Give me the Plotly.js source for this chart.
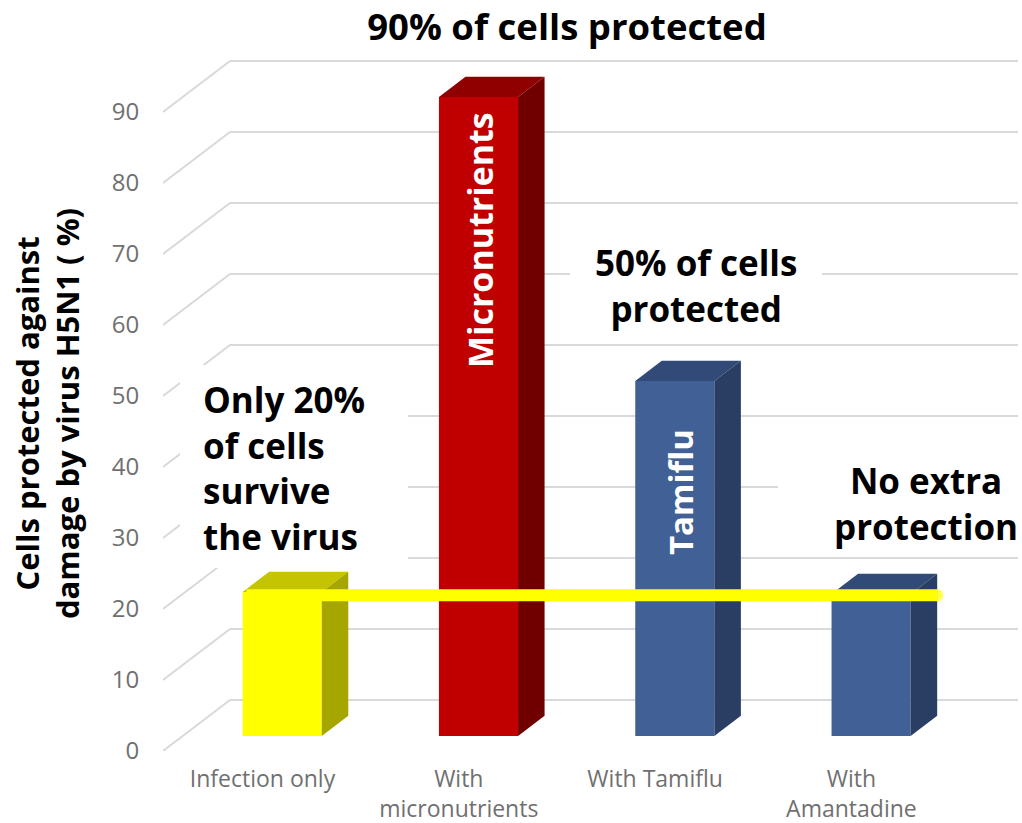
<!DOCTYPE html>
<html><head><meta charset="utf-8">
<script src="https://cdn.plot.ly/plotly-3.0.1.min.js"></script>
<style>html,body{margin:0;padding:0;background:#fff}#c{width:1022px;height:823px}</style>
</head><body><div id="c"></div>
<script>
const categories = ["Infection only","With<br>micronutrients","With Tamiflu","With<br>Amantadine"];
const values = [20.3,90,50,20];
const yTicks = [0,10,20,30,40,50,60,70,80,90];
const frontColors = ["#FFFF00","#C00000","#416096","#416096"];
const topColors = ["#C4C400","#900000","#324A78","#324A78"];
const sideColors = ["#A6A600","#700000","#2A3E63","#2A3E63"];
const barLabels = [null,"Micronutrients","Tamiflu",null];
const referenceLevel = 20;

// plot frame in pixels
const L=163,R=1018,T=55,B=751, W=1022,H=823;
const pxPerCat=196.3, pxPerVal=7.1, cat0=262.5;
const xr=[(L-cat0)/pxPerCat,(R-cat0)/pxPerCat], yr=[0,(B-T)/pxPerVal];
const dX=67/pxPerCat, dY=51/pxPerVal;      // full wall depth, axis units
const dFront=0.294, dBack=0.69, halfW=0.2015;
const px=v=>(v-cat0)/pxPerCat, py=v=>(B-v)/pxPerVal;
const P=(c,v,d)=>[c+d*dX, v+d*dY];

const traces=[];
// front faces
traces.push({type:'bar',x:categories.map((_,i)=>i+dFront*dX),y:values,base:values.map(()=>dFront*dY),
  width:halfW*2,marker:{color:frontColors,line:{width:0}},hoverinfo:'skip',showlegend:false});
// top + side faces
values.forEach((v,i)=>{
  const poly=(pts,color)=>traces.push({type:'scatter',mode:'lines',x:pts.map(p=>p[0]),y:pts.map(p=>p[1]),
    fill:'toself',fillcolor:color,line:{width:0,color:color},hoverinfo:'skip',showlegend:false});
  poly([P(i-halfW,v,dFront),P(i+halfW,v,dFront),P(i+halfW,v,dBack),P(i-halfW,v,dBack),P(i-halfW,v,dFront)],topColors[i]);
  poly([P(i+halfW,0,dFront),P(i+halfW,v,dFront),P(i+halfW,v,dBack),P(i+halfW,0,dBack),P(i+halfW,0,dFront)],sideColors[i]);
});
// reference line across bars
const s=P(-halfW+0.02,referenceLevel,0.27), e=P(3+halfW,referenceLevel,dBack);
traces.push({type:'scatter',mode:'lines+markers',x:[s[0]+(dFront-0.27)*dX,e[0]],y:[s[1],s[1]],
  line:{color:'#FFFF00',width:12},marker:{color:'#FFFF00',size:[0.1,12],line:{width:0}},hoverinfo:'skip',showlegend:false});

// wall grid lines, then white boxes behind the call-outs
const shapes=[];
yTicks.forEach(t=>{
  const a=P(xr[0],t,0), b=P(xr[0],t,1);
  shapes.push({type:'line',layer:'below',xref:'x',yref:'y',x0:a[0],y0:a[1],x1:b[0],y1:b[1],line:{color:'#D9D9D9',width:2}});
  shapes.push({type:'line',layer:'below',xref:'x',yref:'y',x0:b[0],y0:b[1],x1:xr[1],y1:b[1],line:{color:'#D9D9D9',width:2}});
});
[[180,365,408,568],[570,245,822,330],[778,440,1022,557]].forEach(r=>{
  shapes.push({type:'rect',layer:'below',xref:'x',yref:'y',x0:px(r[0]),x1:px(r[2]),y0:py(r[3]),y1:py(r[1]),fillcolor:'#fff',line:{width:0}});
});

const boldFont="'Open Sans', sans-serif";
const note=(text,x,y,size,extra)=>Object.assign({text,xref:'paper',yref:'paper',x:(x-L)/(R-L),y:(B-y)/(B-T),
  xanchor:'center',yanchor:'middle',showarrow:false,font:{family:boldFont,size:size,color:'#000'},align:'center'},extra||{});
const annotations=[
  note('<b>Only 20%<br>of cells<br>survive<br>the virus</b>',201,468,35,{xanchor:'left',align:'left'}),
  note('<b>50% of cells<br>protected</b>',696,285,35),
  note('<b>No extra<br>protection</b>',926,503,35),
  note('<b>Cells protected against<br>damage by virus H5N1 ( %)</b>',47,414,31,{textangle:-90}),
];
const barLabelPos={1:[480,240,34],2:[680,492,33]};
barLabels.forEach((t,i)=>{ if(!t) return;
  const pos=barLabelPos[i];
  annotations.push(note('<b>'+t+'</b>',pos[0],pos[1],pos[2],{textangle:-90,font:{family:boldFont,size:pos[2],color:'#fff'}}));
});

const xTickFont={family:"'Open Sans', sans-serif",size:23,color:'#707070'};
const yTickFont={family:"'Open Sans', sans-serif",size:24,color:'#707070'};
Plotly.newPlot('c',traces,{
  width:W,height:H,paper_bgcolor:'#fff',plot_bgcolor:'#fff',showlegend:false,barmode:'overlay',
  margin:{l:L,r:W-R,t:T,b:H-B,pad:0},
  title:{text:'<b>90% of cells protected</b>',x:567/W,xanchor:'center',y:1-27/H,yanchor:'middle',font:{family:boldFont,size:36.5,color:'#000'}},
  xaxis:{range:xr,tickmode:'array',tickvals:categories.map((_,i)=>i),ticktext:categories,tickangle:0,tickfont:xTickFont,
    ticks:'outside',ticklen:7,tickcolor:'rgba(0,0,0,0)',showgrid:false,zeroline:false,showline:false,fixedrange:true},
  yaxis:{range:yr,tickmode:'array',tickvals:yTicks,ticktext:yTicks.map(String),tickfont:yTickFont,
    ticks:'outside',ticklen:18,tickcolor:'rgba(0,0,0,0)',showgrid:false,zeroline:false,showline:false,fixedrange:true},
  shapes,annotations
},{displayModeBar:false,staticPlot:true});
</script></body></html>
